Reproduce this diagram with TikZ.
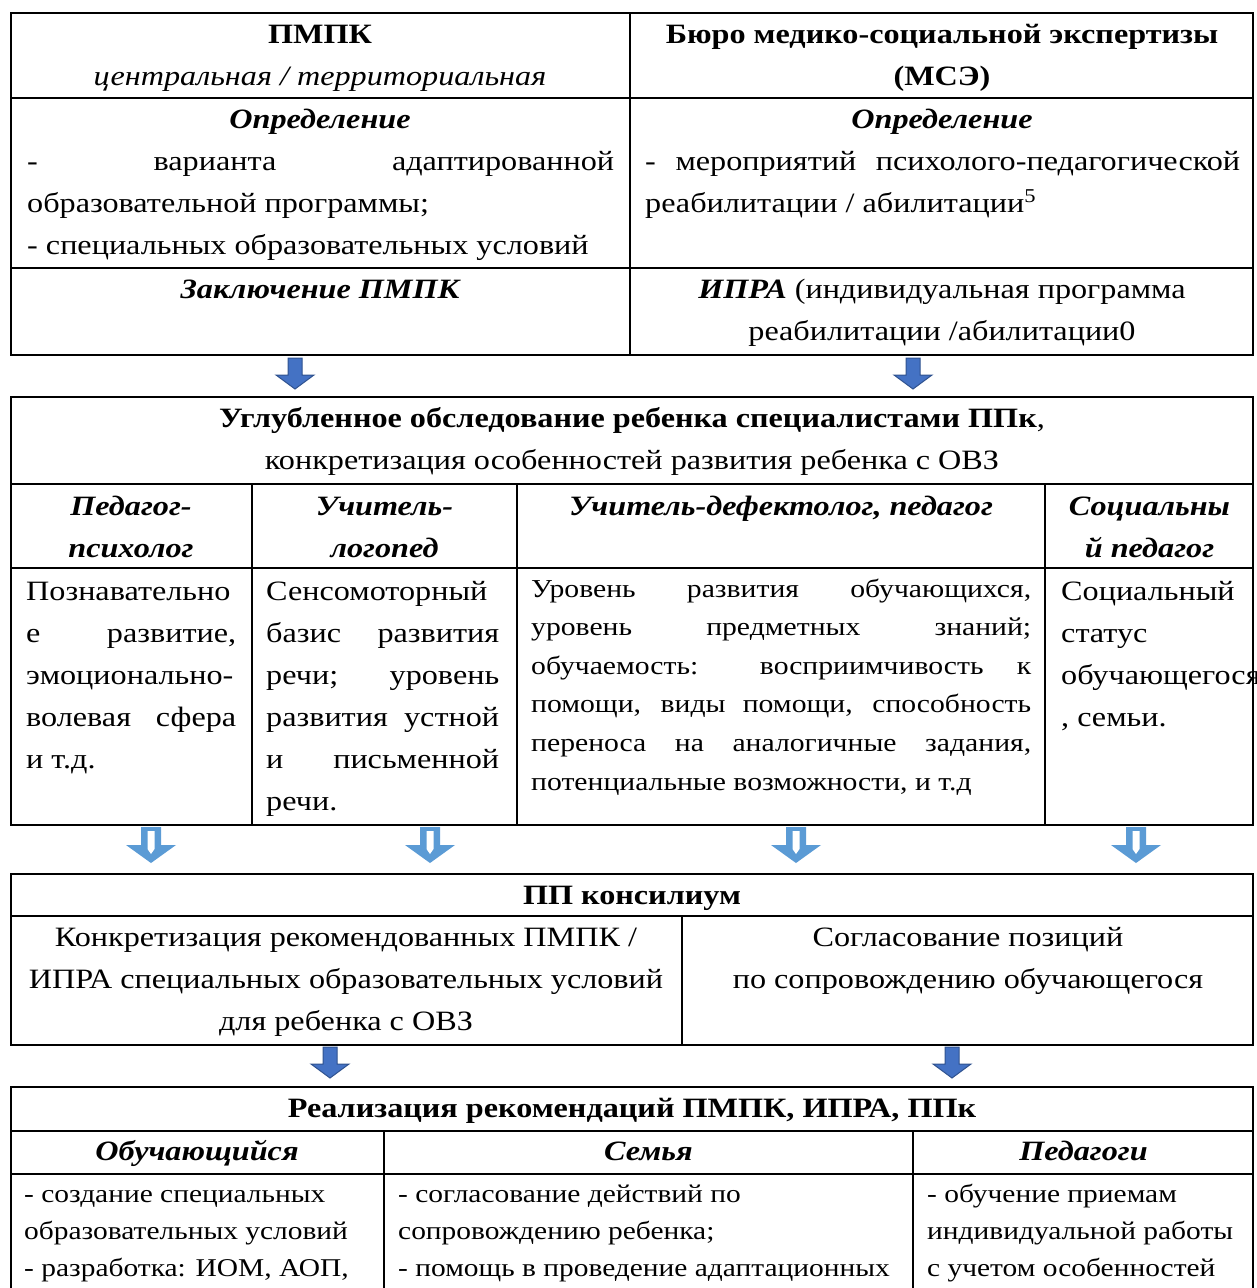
\documentclass[tikz,border=0pt]{standalone}
\usepackage{fontspec}
\setmainfont[FakeStretch=1.15]{Liberation Serif}
\definecolor{dblue}{HTML}{4472C4}
\definecolor{dbline}{HTML}{2F528F}
\definecolor{lblue}{HTML}{5B9BD5}
\newcommand{\jl}[2]{\makebox[#1pt][s]{#2}}
\tikzset{frame/.style={draw=black,line width=2.2pt},
	 txt/.style={inner sep=0pt,anchor=base,align=center,font=\fontsize{28}{42}\selectfont},
	 ltxt/.style={txt,anchor=base west,align=left},
	 stxt/.style={ltxt,font=\fontsize{25.8}{38.6}\selectfont},
	 btxt/.style={ltxt,font=\fontsize{25.6}{37}\selectfont},
	 hd/.style={txt,font=\fontsize{28}{42}\selectfont\bfseries},
	 hdi/.style={txt,font=\fontsize{28}{42}\selectfont\bfseries\itshape},
	 darr/.pic={\filldraw[fill=dblue,draw=dbline,line width=1pt] (-7,0) -- (7,0) -- (7,17) -- (19,17) -- (0,31) -- (-19,17) -- (-7,17) -- cycle;},
	 larr/.pic={\fill[lblue] (-10,0) -- (10,0) -- (10,18) -- (25,18) -- (0,36) -- (-25,18) -- (-10,18) -- cycle;
	   \fill[white] (-3.5,4) -- (3.5,4) -- (3.5,22) -- (0,27) -- (-3.5,22) -- cycle;}
	 }
\begin{document}
\begin{tikzpicture}[x=1pt,y=-1pt]
	\useasboundingbox (0,0) rectangle (1256,1288);
	% ПМПК / МСЭ (multi-line nodes sit on their last baseline)
	\draw[frame] (11,13) rectangle (1253,355);
	\draw[frame] (630,13) -- (630,355) (11,98) -- (1253,98) (11,268) -- (1253,268);
	\node[hd] (pmpk) at (320,85) {ПМПК\\\mdseries\itshape центральная / территориальная};
	\node[hd] (mse) at (942,85) {Бюро медико-социальной экспертизы\\(МСЭ)};
	\node[hdi] (opr1) at (320,128) {Определение};
	\node[hdi] (opr2) at (942,128) {Определение};
	\node[ltxt] (def1) at (27,254) {\jl{587}{- варианта адаптированной}\\образовательной программы;\\- специальных образовательных условий};
	\node[ltxt] (def2) at (645,212) {\jl{595}{- мероприятий психолого-педагогической}\\реабилитации / абилитации\textsuperscript{5}};
	\node[hdi] (zakl) at (320,298) {Заключение ПМПК};
	\node[txt] (ipra) at (942,340) {\textbf{\textit{ИПРА}} (индивидуальная программа\\реабилитации /абилитации0};
	\pic (a1) at (295,358) {darr};
	\pic (a2) at (913,358) {darr};
	% обследование ППк
	\draw[frame] (11,397) rectangle (1253,825);
	\draw[frame] (11,484) -- (1253,484) (11,568) -- (1253,568);
	\draw[frame] (252,484) -- (252,825) (517,484) -- (517,825) (1045,484) -- (1045,825);
	\node[txt] (obsl) at (632,469) {\textbf{Углубленное обследование ребенка специалистами ППк},\\конкретизация особенностей развития ребенка с ОВЗ};
	\node[hdi] (psy) at (131,557) {Педагог-\\психолог};
	\node[hdi] (log) at (384.5,557) {Учитель-\\логопед};
	\node[hdi] (def) at (781,515) {Учитель-дефектолог, педагог};
	\node[hdi] (soc) at (1149.5,557) {Социальны\\й педагог};
	\node[ltxt] (psyt) at (26,768) {Познавательно\\\jl{210}{е развитие,}\\эмоционально-\\\jl{210}{волевая сфера}\\и т.д.};
	\node[ltxt] (logt) at (266,810) {Сенсомоторный\\\jl{233}{базис развития}\\\jl{233}{речи; уровень}\\\jl{233}{развития устной}\\\jl{233}{и письменной}\\речи.};
	\node[stxt] (deft) at (531,790) {\jl{500}{Уровень развития обучающихся,}\\\jl{500}{уровень предметных знаний;}\\\jl{500}{обучаемость: восприимчивость к}\\\jl{500}{помощи, виды помощи, способность}\\\jl{500}{переноса на аналогичные задания,}\\потенциальные возможности, и т.д};
	\node[ltxt] (soct) at (1061,726) {Социальный\\статус\\обучающегося\\, семьи.};
	\pic (b1) at (151,827) {larr};
	\pic (b2) at (430,827) {larr};
	\pic (b3) at (796,827) {larr};
	\pic (b4) at (1136,827) {larr};
	% ПП консилиум
	\draw[frame] (11,874) rectangle (1253,1045);
	\draw[frame] (11,916) -- (1253,916) (682,916) -- (682,1045);
	\node[hd] (ppk) at (632,904) {ПП консилиум};
	\node[txt] (konk) at (346,1030) {Конкретизация рекомендованных ПМПК /\\ИПРА специальных образовательных условий\\для ребенка с ОВЗ};
	\node[txt] (sogl) at (968,988) {Согласование позиций\\по сопровождению обучающегося};
	\pic (c1) at (330,1047) {darr};
	\pic (c2) at (952,1047) {darr};
	% реализация
	\draw[frame] (11,1300) -- (11,1087) -- (1253,1087) -- (1253,1300);
	\draw[frame] (11,1131) -- (1253,1131) (11,1174) -- (1253,1174) (384,1131) -- (384,1300) (913,1131) -- (913,1300);
	\node[hd] (real) at (632,1117) {Реализация рекомендаций ПМПК, ИПРА, ППк};
	\node[hdi] (obuch) at (197,1160) {Обучающийся};
	\node[hdi] (sem) at (648.5,1160) {Семья};
	\node[hdi] (ped) at (1083.5,1160) {Педагоги};
	\node[btxt] (obucht) at (24,1276) {- создание специальных\\образовательных условий\\- разработка: ИОМ, АОП,};
	\node[btxt] (semt) at (398,1276) {- согласование действий по\\сопровождению ребенка;\\- помощь в проведение адаптационных};
	\node[btxt] (pedt) at (927,1276) {- обучение приемам\\индивидуальной работы\\с учетом особенностей};
\end{tikzpicture}
\end{document}
